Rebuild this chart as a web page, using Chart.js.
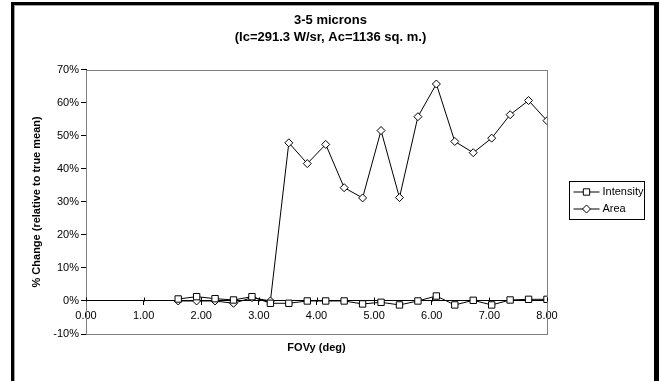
<!DOCTYPE html>
<html>
<head>
<meta charset="utf-8">
<script src="https://cdn.jsdelivr.net/npm/chart.js@4/dist/chart.umd.min.js"></script>
<style>
  html, body { margin: 0; padding: 0; background: #fff; }
  #frame {
    position: absolute; left: 11px; top: 2px; width: 640px; height: 377px;
    border-top: 3px solid #000; border-left: 3px solid #000; border-right: 5px solid #000;
  }
  #frame .inner {
    position: absolute; left: 0; top: 0; right: 0; bottom: 0;
    border-top: 1px solid #a0a0a0; border-left: 1px solid #a0a0a0; border-bottom: 1px solid #a0a0a0;
  }
  #chart { position: absolute; left: 0; top: 0; }
</style>
</head>
<body>
<div id="frame"><div class="inner"></div></div>
<canvas id="chart" width="661" height="381"></canvas>
<script>
// FOVy sample positions (deg)
const fovy = [1.60, 1.92, 2.24, 2.56, 2.88, 3.20, 3.52, 3.84, 4.16, 4.48, 4.80,
              5.12, 5.44, 5.76, 6.08, 6.40, 6.72, 7.04, 7.36, 7.68, 8.00];
// % change relative to true mean
const intensityPct = [0.6, 1.3, 0.7, 0.3, 1.3, -0.7, -0.7, 0.0, 0.0, 0.0, -0.9,
                      -0.4, -1.2, 0.0, 1.5, -1.2, 0.2, -1.2, 0.3, 0.5, 0.5];
const areaPct = [0.0, 0.0, 0.0, -0.7, 1.0, 0.0, 47.9, 41.6, 47.4, 34.3, 31.2,
                 51.6, 31.3, 55.8, 65.7, 48.3, 44.9, 49.3, 56.4, 60.7, 54.6];

const titleLines = ['3-5 microns', '(Ic=291.3 W/sr, Ac=1136 sq. m.)'];
const xRange = [0, 8];
const yRange = [-10, 70];

Chart.defaults.font.family = "'Liberation Sans', Arial, sans-serif";
Chart.defaults.color = '#000';

function toPoints(values) {
    return fovy.map((x, i) => ({ x: x, y: values[i] }));
}

// gray plot-area border, drawn under the data
const plotBorder = {
    id: 'plotBorder',
    beforeDatasetsDraw(chart) {
        const { ctx, chartArea: a } = chart;
        ctx.save();
        ctx.strokeStyle = '#808080';
        ctx.lineWidth = 1;
        ctx.strokeRect(Math.round(a.left) + 0.5, Math.round(a.top) + 0.5,
            Math.round(a.right - a.left), Math.round(a.bottom - a.top));
        ctx.restore();
    }
};

// x axis uses cross tick marks, chart.js only draws the lower half
const crossTicks = {
    id: 'crossTicks',
    afterDraw(chart) {
        const { ctx } = chart;
        const xs = chart.scales.x;
        const y0 = Math.round(chart.scales.y.getPixelForValue(0)) + 0.5;
        ctx.save();
        ctx.strokeStyle = '#000';
        ctx.lineWidth = 1;
        xs.ticks.forEach((t) => {
            const px = Math.round(xs.getPixelForValue(t.value)) + 0.5;
            ctx.beginPath();
            ctx.moveTo(px, y0 - 4);
            ctx.lineTo(px, y0);
            ctx.stroke();
        });
        ctx.restore();
    }
};

// boxed legend with line + marker samples
const boxLegend = {
    id: 'boxLegend',
    afterDraw(chart) {
        const { ctx } = chart;
        const left = 569.5, top = 181.5, w = 75, h = 38;
        ctx.save();
        ctx.fillStyle = '#fff';
        ctx.fillRect(left, top, w, h);
        ctx.strokeStyle = '#000';
        ctx.lineWidth = 1;
        ctx.strokeRect(left, top, w, h);
        ctx.font = "11px 'Liberation Sans', Arial, sans-serif";
        ctx.textBaseline = 'middle';
        chart.data.datasets.forEach((ds, i) => {
            const y = top + 10.5 + i * 17;
            ctx.strokeStyle = '#000';
            ctx.beginPath();
            ctx.moveTo(left + 4, y);
            ctx.lineTo(left + 30, y);
            ctx.stroke();
            ctx.fillStyle = '#fff';
            ctx.strokeStyle = '#000';
            Chart.helpers.drawPoint(ctx, {
                pointStyle: ds.pointStyle, radius: ds.pointRadius, rotation: 0, borderWidth: 1
            }, left + 17, y);
            ctx.fillStyle = '#000';
            ctx.fillText(ds.label, left + 33, y);
        });
        ctx.restore();
    }
};

new Chart(document.getElementById('chart'), {
    type: 'line',
    data: {
        datasets: [
            {
                label: 'Intensity',
                data: toPoints(intensityPct),
                borderColor: '#000',
                borderWidth: 1,
                pointStyle: 'rect',
                pointRadius: 4.5,
                pointBackgroundColor: '#fff',
                pointBorderColor: '#000',
                pointBorderWidth: 1,
                tension: 0
            },
            {
                label: 'Area',
                data: toPoints(areaPct),
                borderColor: '#000',
                borderWidth: 1,
                pointStyle: 'rectRot',
                pointRadius: 4,
                pointBackgroundColor: '#fff',
                pointBorderColor: '#000',
                pointBorderWidth: 1,
                tension: 0
            }
        ]
    },
    options: {
        responsive: false,
        animation: false,
        devicePixelRatio: 1,
        layout: { padding: { left: 0, top: 0, right: 0, bottom: 47 } },
        plugins: {
            legend: { display: false },
            tooltip: { enabled: false },
            title: {
                display: true,
                text: titleLines,
                font: { size: 13, weight: 'bold', lineHeight: 1.3 },
                padding: { top: 12, bottom: 24 },
                color: '#000'
            }
        },
        scales: {
            x: {
                type: 'linear',
                min: xRange[0],
                max: xRange[1],
                position: { y: 0 },
                afterFit: (scale) => { scale.height = 60; },
                border: { display: true, color: '#000', width: 1 },
                grid: { drawOnChartArea: false, drawTicks: true, tickLength: 4, color: '#000' },
                ticks: {
                    stepSize: 1,
                    padding: 4,
                    maxRotation: 0,
                    font: { size: 11 },
                    callback: (v) => Number(v).toFixed(2)
                },
                title: {
                    display: true,
                    text: 'FOVy (deg)',
                    font: { size: 11, weight: 'bold' },
                    padding: { top: 0, bottom: 6 }
                }
            },
            y: {
                type: 'linear',
                min: yRange[0],
                max: yRange[1],
                position: 'left',
                afterFit: (scale) => { scale.width = 86; },
                border: { display: true, color: '#000', width: 1 },
                grid: { drawOnChartArea: false, drawTicks: true, tickLength: 5, color: '#000' },
                ticks: {
                    stepSize: 10,
                    padding: 2,
                    font: { size: 11 },
                    callback: (v) => v + '%'
                },
                title: {
                    display: true,
                    text: '% Change (relative to true mean)',
                    font: { size: 11, weight: 'bold' },
                    padding: { top: 30, bottom: 0 }
                }
            },
            // empty right-hand axis that holds the room for the legend
            gutter: {
                type: 'linear',
                axis: 'y',
                position: 'right',
                afterFit: (scale) => { scale.width = 114; },
                grid: { display: false },
                border: { display: false },
                ticks: { display: false }
            }
        }
    },
    plugins: [plotBorder, crossTicks, boxLegend]
});
</script>
</body>
</html>
